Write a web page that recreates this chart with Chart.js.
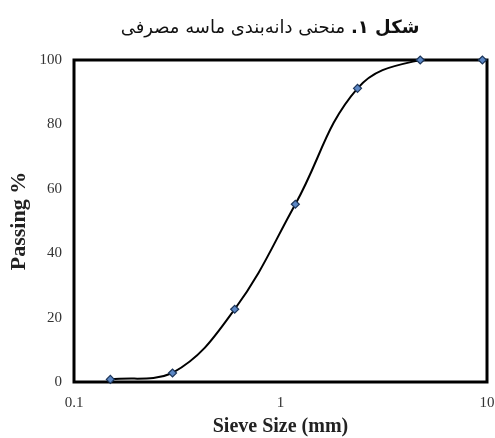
<!DOCTYPE html>
<html>
<head>
<meta charset="utf-8">
<script src="https://cdn.jsdelivr.net/npm/chart.js@4.4.1/dist/chart.umd.min.js"></script>
<style>
  html, body { margin:0; padding:0; background:#fff; }
  #wrap { position:relative; width:495px; height:438px; }
  #title {
    position:absolute; left:0; top:16px; width:540px; text-align:center;
    font-family:"DejaVu Sans", sans-serif; font-size:18px; color:#111;
    white-space:nowrap;
  }
  canvas { position:absolute; left:0; top:0; }
</style>
</head>
<body>
<div id="wrap">
  <canvas id="grading" width="495" height="438"></canvas>
  <div id="title" dir="rtl"><b>شکل ۱.</b> منحنی دانه‌بندی ماسه مصرفی</div>
</div>
<script>
// sieve analysis
const sieveSizes = [0.15, 0.3, 0.6, 1.18, 2.36, 4.75, 9.5];   // mm
const passing    = [0.8, 2.8, 22.6, 55.2, 91.2, 100, 100];     // %
const xTicks     = [0.1, 1, 10];
const yTicks     = [0, 20, 40, 60, 80, 100];

const pts = sieveSizes.map((s, i) => ({ x: s, y: passing[i] }));

// black frame round the plot, drawn under the markers
const framePlugin = {
  id: 'frame',
  beforeDatasetsDraw(chart){
    const { ctx, chartArea: a } = chart;
    ctx.save();
    ctx.strokeStyle = '#000';
    ctx.lineWidth = 3;
    ctx.strokeRect(a.left, a.top, a.right - a.left, a.bottom - a.top);
    ctx.restore();
  }
};

const serif      = '"Liberation Serif", "Times New Roman", serif';
const tickFont   = { family: serif, size: 15 };
const xTitleFont = { family: serif, size: 20, weight: 'bold', lineHeight: 1.1 };
const yTitleFont = { family: serif, size: 22, weight: 'bold', lineHeight: 1.1 };

new Chart(document.getElementById('grading').getContext('2d'), {
  type: 'line',
  data: {
    datasets: [
      {
        data: pts,
        borderColor: '#000',
        borderWidth: 2,
        tension: 0.4,
        pointRadius: 0,
        fill: false,
        order: 2
      },
      {
        data: pts,
        showLine: false,
        pointStyle: 'rectRot',
        pointRadius: 4,
        pointBackgroundColor: '#5b87c5',
        pointBorderColor: '#1c3559',
        pointBorderWidth: 1.2,
        clip: false,
        order: 1
      }
    ]
  },
  options: {
    responsive: false,
    animation: false,
    layout: { padding: { top: 60, right: 8, left: 0, bottom: 0 } },
    plugins: { legend: { display: false }, tooltip: { enabled: false } },
    scales: {
      x: {
        type: 'logarithmic',
        min: 0.1, max: 10,
        afterBuildTicks: s => { s.ticks = xTicks.map(v => ({ value: v })); },
        afterFit: s => { s.height = 56; s.paddingLeft = 0; s.paddingRight = 0; },
        grid: { display: false, drawTicks: false },
        border: { display: false },
        ticks: {
          color: '#333', font: tickFont, padding: 12, maxRotation: 0,
          callback: v => String(v)
        },
        title: { display: true, text: 'Sieve Size (mm)', color: '#222', font: xTitleFont, padding: { top: 0, bottom: 0 } }
      },
      y: {
        min: 0, max: 100,
        afterBuildTicks: s => { s.ticks = yTicks.map(v => ({ value: v })); },
        afterFit: s => { s.width = 74; },
        grid: { display: false, drawTicks: false },
        border: { display: false },
        ticks: { color: '#333', font: tickFont, padding: 12 },
        title: { display: true, text: 'Passing %', color: '#222', font: yTitleFont, padding: { top: 7, bottom: 0 } }
      }
    }
  },
  plugins: [framePlugin]
});
</script>
</body>
</html>
